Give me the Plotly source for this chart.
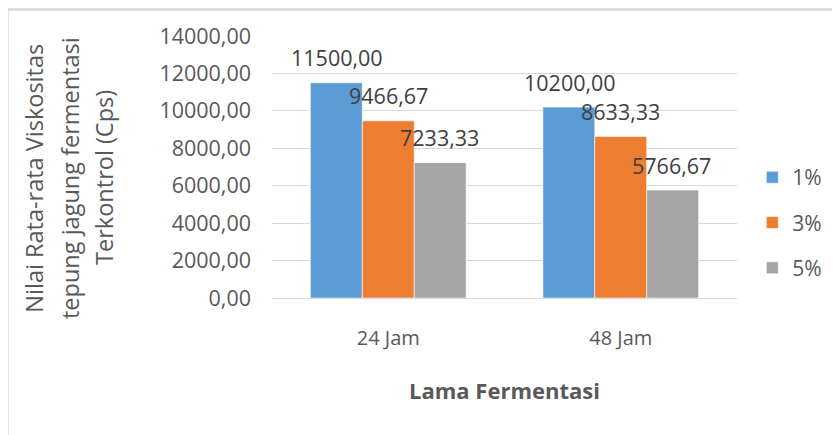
import plotly.graph_objects as go

categories = ["24 Jam", "48 Jam"]
series_names = ["1%", "3%", "5%"]
values_1 = [11500.00, 10200.00]
values_3 = [9466.67, 8633.33]
values_5 = [7233.33, 5766.67]
colors = ["#5B9BD5", "#ED7D31", "#A5A5A5"]
y_ticks = [0, 2000, 4000, 6000, 8000, 10000, 12000, 14000]

FONT = "Open Sans"
all_vals = [values_1, values_3, values_5]

fig = go.Figure()
for name, vals, col in zip(series_names, all_vals, colors):
    fig.add_trace(go.Bar(
        x=categories, y=vals, name=name, legendgroup=name,
        marker=dict(color=col, line=dict(color="rgba(255,255,255,0.6)", width=1)),
    ))

def fmt(v):
    return f"{v:.2f}".replace(".", ",")

shifts = [-51, 0, 51]
annotations = []
for vals, xs in zip(all_vals, shifts):
    for c, v in zip(categories, vals):
        annotations.append(dict(
            x=c, y=v, xref="x", yref="y", text=fmt(v), showarrow=False,
            xshift=xs, yshift=25, yanchor="middle", xanchor="center",
            font=dict(family=FONT, size=21.5, color="#404040")))

# axis titles
annotations.append(dict(x=0.5, y=-0.35, xref="paper", yref="paper", text="<b>Lama Fermentasi</b>",
                        showarrow=False, xanchor="center", yanchor="middle",
                        font=dict(family=FONT, size=22, color="#595959")))
ytitle_lines = ["Nilai Rata-rata Viskositas", "tepung jagung fermentasi", "Terkontrol (Cps)"]
for line, xp in zip(ytitle_lines, [-0.512, -0.436, -0.361]):
    annotations.append(dict(x=xp, y=0.459, xref="paper", yref="paper", text=line,
                            showarrow=False, textangle=-90, xanchor="center", yanchor="middle",
                            font=dict(family=FONT, size=23.5, color="#595959")))

fig.update_layout(
    width=832, height=427,
    margin=dict(l=264, r=103, t=28, b=136.5, autoexpand=False),
    paper_bgcolor="white", plot_bgcolor="white",
    barmode="group", bargap=0.33, bargroupgap=0,
    separators=", ",
    font=dict(family=FONT, size=20, color="#595959"),
    showlegend=True,
    legend=dict(x=1.033, y=0.288, xanchor="left", yanchor="middle",
                font=dict(family=FONT, size=21, color="#595959"),
                tracegroupgap=15, itemwidth=30, bgcolor="rgba(0,0,0,0)"),
    annotations=annotations,
    shapes=[dict(type="rect", xref="paper", yref="paper", x0=-0.5689, x1=1.5, y0=-1.0, y1=1.1008,
                 line=dict(color="#D9D9D9", width=2.5), layer="below")],
)
fig.update_xaxes(showgrid=False, showline=True, linecolor="#D9D9D9", linewidth=1,
                 ticks="", ticklabelstandoff=22, tickfont=dict(family=FONT, size=20, color="#595959"))
fig.update_yaxes(range=[0, 14000], tickvals=y_ticks, tickformat=".2f",
                 showgrid=True, gridcolor="#D9D9D9", gridwidth=1, zeroline=False,
                 ticks="", ticklabelstandoff=20, showline=False,
                 tickfont=dict(family=FONT, size=21.5, color="#595959"))

fig.write_html("out.html")
